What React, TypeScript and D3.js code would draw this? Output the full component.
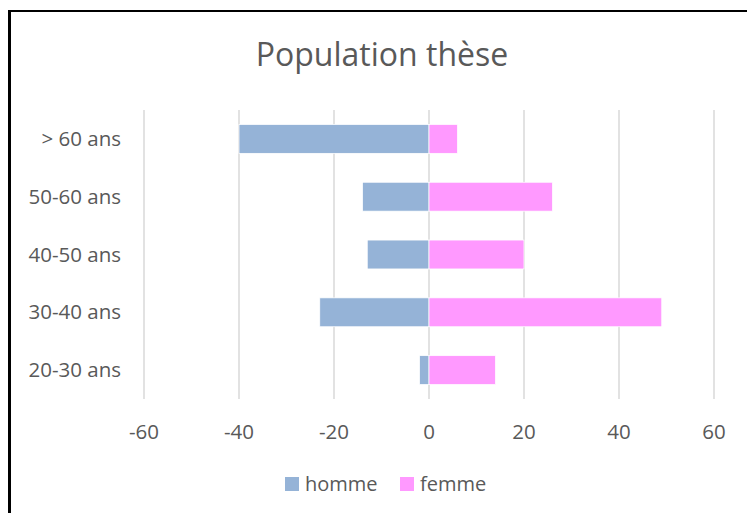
import React from "react";
import * as d3 from "d3";

const categories = ["> 60 ans", "50-60 ans", "40-50 ans", "30-40 ans", "20-30 ans"];
const homme = [-40, -14, -13, -23, -2];
const femme = [6, 26, 20, 49, 14];
const xTicks = [-60, -40, -20, 0, 20, 40, 60];
const seriesNames = ["homme", "femme"];
const seriesColors = ["#95B3D7", "#FF99FF"];

const W = 747;
const H = 513;
const FONT = "'Open Sans', 'Liberation Sans', sans-serif";
const TXT = "#595959";

export default function App() {
  const x = d3.scaleLinear().domain([-60, 60]).range([144, 714]);
  const y = d3.scaleBand<string>().domain(categories).range([110, 399]).paddingInner(0.5).paddingOuter(0.25);
  const series = [homme, femme];

  return (
    <svg width={W} height={H} style={{ position: "absolute", left: 0, top: 0, background: "#fff" }}>
      <rect x={0} y={0} width={W} height={H} fill="#fff" />
      <line x1={9.5} y1={10} x2={9.5} y2={H} stroke="#000" strokeWidth={3} />
      <line x1={8} y1={11} x2={W} y2={11} stroke="#000" strokeWidth={2} />
      <text x={382} y={66} textAnchor="middle" fontFamily={FONT} fontSize={32} fill={TXT}>
        Population thèse
      </text>
      {xTicks.map((t) => (
        <line key={"g" + t} x1={x(t)} x2={x(t)} y1={110} y2={399} stroke="#D9D9D9" strokeWidth={1.5} />
      ))}
      {series.map((vals, si) =>
        vals.map((v, i) => {
          const c = categories[i];
          const x0 = Math.min(x(0), x(v));
          const w = Math.abs(x(v) - x(0));
          return (
            <rect
              key={si + "-" + i}
              x={x0}
              y={y(c)}
              width={w}
              height={y.bandwidth()}
              fill={seriesColors[si]}
              stroke="#fff"
              strokeWidth={0.75}
            />
          );
        })
      )}
      {xTicks.map((t) => (
        <text key={"t" + t} x={x(t)} y={439} textAnchor="middle" fontFamily={FONT} fontSize={20.5} fill={TXT}>
          {t}
        </text>
      ))}
      {categories.map((c) => (
        <text
          key={c}
          x={121}
          y={(y(c) as number) + y.bandwidth() / 2}
          dy="0.35em"
          textAnchor="end"
          fontFamily={FONT}
          fontSize={20.5}
          fill={TXT}
        >
          {c}
        </text>
      ))}
      {seriesNames.map((s, i) => {
        const lx = [285, 400][i];
        return (
          <g key={s}>
            <rect x={lx} y={477} width={14} height={14} fill={seriesColors[i]} />
            <text x={lx + 20} y={491} fontFamily={FONT} fontSize={20} fill={TXT}>
              {s}
            </text>
          </g>
        );
      })}
    </svg>
  );
}
